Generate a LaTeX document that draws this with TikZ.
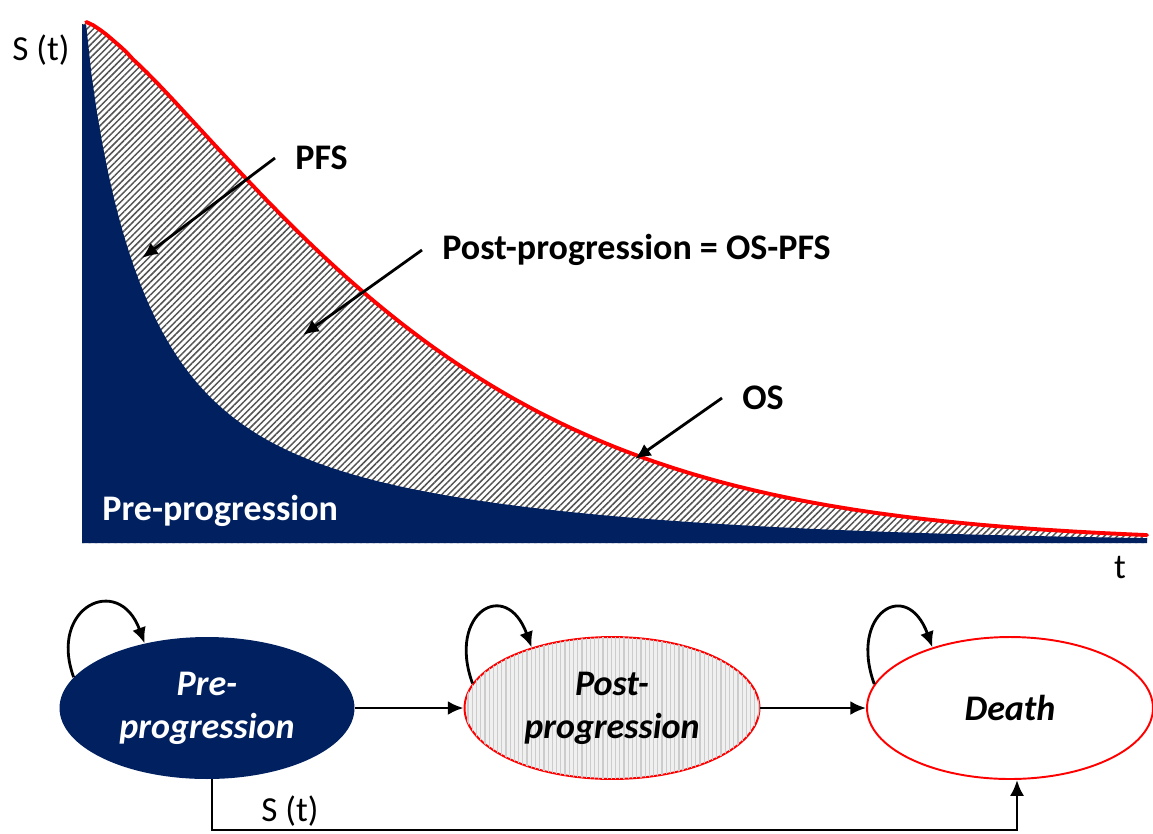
\documentclass[tikz,border=0pt]{standalone}
\usepackage{fontspec}
\setmainfont{Carlito}
\usepackage{xcolor}
\usetikzlibrary{arrows.meta,shapes.geometric,patterns.meta}
\definecolor{navy}{RGB}{0,32,96}

\begin{document}
\begin{tikzpicture}[x=0.02cm,y=-0.02cm,>={Latex[length=9pt,width=8pt]},
  note/.style={font=\fontsize{20.5}{24}\selectfont\bfseries,inner xsep=0.4cm,inner ysep=0pt,anchor=west},
  plain/.style={font=\fontsize{20}{24}\selectfont,inner sep=0pt},
  state/.style={ellipse,minimum width=5.9cm,minimum height=2.84cm,inner sep=0pt,align=center,
    font=\fontsize{20.5}{24.5}\selectfont\bfseries\itshape},
  hatch/.style={fill=white,postaction={pattern={Lines[angle=45,distance=2.6pt,line width=0.85pt]},pattern color=gray!65!black}},
  stripe/.style={fill=gray!12,postaction={pattern={Lines[angle=90,distance=2.4pt,line width=0.7pt]},pattern color=gray!40}},
  link/.style={line width=1.6pt,->}]
\useasboundingbox (0,0) rectangle (1153,833);
% survival curves (OS: Weibull, PFS: mixture)
\path[hatch](82,543)--(82,22)--plot[domain=86.2:1147,samples=160](\x,{543-521*exp(-((\x-86)/353)^1.3)})--(1147,543)--cycle;
\fill[navy](82,543)--(82,24)--plot[domain=86.2:1147,samples=200](\x,{543-521*(0.73*exp(-((\x-86)/54.6)^0.85)+0.27*exp(-(\x-86)/316))})--(1147,543)--cycle;
\draw[red,line width=2.2pt,line cap=round]plot[domain=86.2:1147,samples=160](\x,{543-521*exp(-((\x-86)/353)^1.3)});
\node[plain](st) at (41,50){S (t)};
\node[plain](t) at (1120,568){t};
\node[note,anchor=base west,inner xsep=0pt,text=white](preplot) at (102,520){Pre-progression};
% arrows to the areas
\node[note](pfs) at (275,158){PFS};
\coordinate (pfstip) at (142,258);
\draw[link](pfs.west)--(pfstip);
\node[note](postnote) at (422,250){Post-progression = OS-PFS};
\coordinate (posttip) at (303,335);
\draw[link](postnote.west)--(posttip);
\node[note](os) at (722,398){OS};
\coordinate (ostip) at (635,459);
\draw[link](os.west)--(ostip);
% states
\node[state,fill=navy,text=white](pre) at (207,708){Pre-\\progression};
\node[state,stripe,draw=red,line width=1.1pt](post) at (612,708){Post-\\progression};
\node[state,draw=red,line width=1.1pt,minimum width=5.72cm](death) at (1010,708){Death};
\draw[link](pre)--(post);
\draw[link](post)--(death);
\draw[link](pre.167) .. controls +(110:1.5cm) and +(110:1.5cm) .. (pre.134);
\draw[link](post.170) .. controls +(110:1.5cm) and +(110:1.5cm) .. (post.143);
\draw[link](death.170) .. controls +(110:1.5cm) and +(110:1.5cm) .. (death.142);
\coordinate (low) at (0,830);
\draw[link]([xshift=0.1cm]pre.south)--([xshift=0.1cm]pre.south |- low)-|([xshift=0.14cm]death.south);
\node[plain](stb) at (290,811){S (t)};
\end{tikzpicture}
\end{document}
